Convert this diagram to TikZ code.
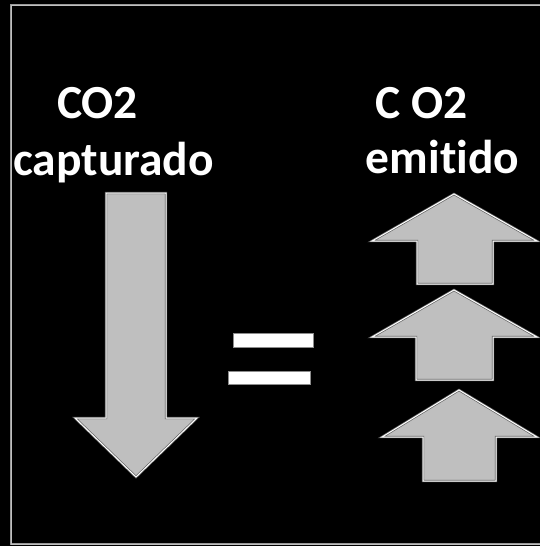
\documentclass[tikz,border=0pt]{standalone}
\usepackage{fontspec}
\setmainfont[Ligatures=NoCommon]{Carlito}
\begin{document}
\begin{tikzpicture}[x=1pt,y=-1pt,
  lbl/.style={text=white,font=\fontsize{47.5}{50}\selectfont\bfseries,anchor=base,inner sep=0pt},
  bigarrow/.style={fill=black!25,draw=black!60,double=white,double distance=1pt,line width=0.7pt,line join=miter},
  eqbar/.style={fill=white,draw=black!45,line width=1pt},
  frame/.style={draw=black!40,double=black!25,double distance=1pt,line width=0.8pt}]
\clip (0,0) rectangle (540,546);
\fill[black] (0,0) rectangle (540,546);
\draw[frame] (11,5) rectangle (560,544);
% labels
\node[lbl] (co2a) at (97.5,118) {CO2};
\node[lbl] (capt) at (113.5,175) {capturado};
\node[lbl] (co2b) at (422,118) {C O2};
\node[lbl] (emit) at (442.5,173) {emitido};
% down arrow
\draw[bigarrow] (106,193) -- (166,193) -- (166,418) -- (197,418) -- (136,477) -- (75,418) -- (106,418) -- cycle;
% equals sign
\draw[eqbar] (233,333) rectangle (313,347);
\draw[eqbar] (228,371) rectangle (310,384);
% up arrows
\draw[bigarrow] (454,194) -- (537,241) -- (493,241) -- (493,284) -- (417,284) -- (417,241) -- (372,241) -- cycle;
\draw[bigarrow] (454,290) -- (537,337) -- (493,337) -- (493,380) -- (416,380) -- (416,337) -- (372,337) -- cycle;
\draw[bigarrow] (459,390) -- (537,437) -- (496,437) -- (496,481) -- (423,481) -- (423,437) -- (382,437) -- cycle;
\end{tikzpicture}
\end{document}
